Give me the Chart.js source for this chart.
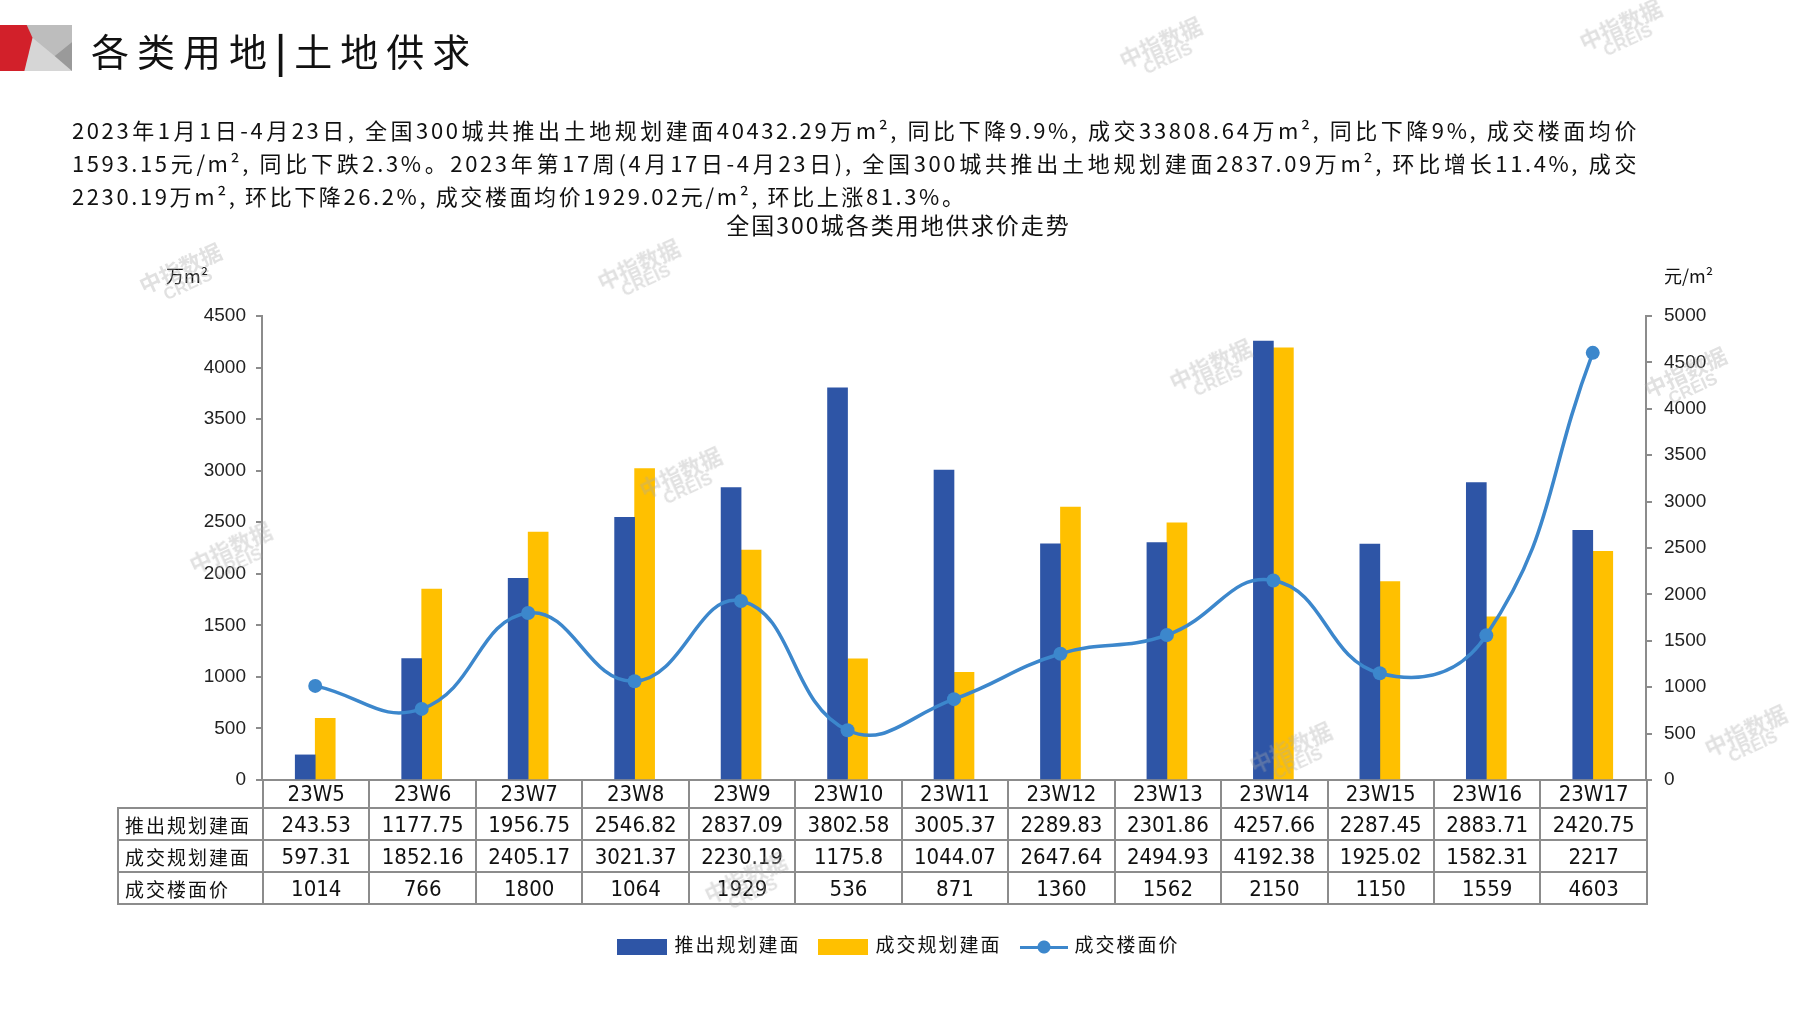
<!DOCTYPE html>
<html>
<head>
<meta charset="utf-8">
<script src="https://cdn.jsdelivr.net/npm/chart.js@4.4.0/dist/chart.umd.min.js"></script>
<style>
  body { margin: 0; background: #fff; width: 1797px; height: 1010px; overflow: hidden; position: relative;
         font-family: "Noto Sans CJK SC", "Noto Sans", sans-serif; color: #111; }
  #wrap { position: absolute; left: 0; top: 0; width: 1797px; height: 1010px; }
  .abs { position: absolute; white-space: nowrap; }
  #title { left: 91px; top: 22px; font-size: 38px; letter-spacing: 8px; font-weight: 400; }
  .para { left: 72px; width: 1567px; font-size: 22px; line-height: 33px; letter-spacing: 2.6px; }
  .just { text-align: justify; text-align-last: justify; }
  #ctitle { left: 0; width: 1797px; top: 207px; text-align: center; font-size: 23px; letter-spacing: 2px; }
  .unit { top: 262px; font-size: 18px; }
  #tbl { position: absolute; left: 117px; top: 780px; border-collapse: collapse; table-layout: fixed; }
  #tbl td { border: 2px solid #8c8c8c; padding: 0; text-align: center;
            font-family: "Liberation Sans Narrow", "DejaVu Sans Condensed", sans-serif; font-size: 22px; color: #111; }
  #tbl td.lab { text-align: left; padding-left: 6px; font-family: "Noto Sans CJK SC", sans-serif; font-size: 19px; letter-spacing: 2px; }
  #tbl tr.head td { border-top: none; height: 27px; }
  #tbl tr.head td.blank { border: none; border-right: 2px solid #8c8c8c; }
  #tbl tr.row td { height: 30px; }
  #legend { left: 0; width: 1797px; top: 927px; text-align: center; font-size: 19px; letter-spacing: 2px; }
  #legend span.item { display: inline-block; margin: 0 9px; vertical-align: middle; }
  #legend i { display: inline-block; vertical-align: middle; margin-right: 7px; }
  .wm { position: absolute; color: rgba(170,170,170,0.35); font-weight: 700; font-size: 22px; line-height: 20px;
        text-align: center; transform: rotate(-25deg); font-family: "Noto Sans CJK SC", sans-serif; }
  .wm b { display: block; font-family: "Liberation Sans", sans-serif; font-size: 17px; }
</style>
</head>
<body>
<div id="wrap"><canvas id="myChart"></canvas></div>

<svg class="abs" style="left:0;top:25px" width="72" height="46" viewBox="0 0 62 43" preserveAspectRatio="none">
  <rect x="0" y="0" width="62" height="43" fill="#d6d6d6"/>
  <polygon points="20,0 62,0 62,16 47,29 28,12" fill="#bdbdbd"/>
  <polygon points="62,16 62,43 47,29" fill="#9a9a9a"/>
  <polygon points="0,0 23,0 28,12 21,43 0,43" fill="#d2202a"/>
</svg>
<div id="title" class="abs">各类用地<span style="font-weight:700">|</span>土地供求</div>

<div class="abs para just" style="top:113px">2023年1月1日-4月23日, 全国300城共推出土地规划建面40432.29万m², 同比下降9.9%, 成交33808.64万m², 同比下降9%, 成交楼面均价</div>
<div class="abs para just" style="top:146px">1593.15元/m², 同比下跌2.3%。2023年第17周(4月17日-4月23日), 全国300城共推出土地规划建面2837.09万m², 环比增长11.4%, 成交</div>
<div class="abs para" style="top:179px">2230.19万m², 环比下降26.2%, 成交楼面均价1929.02元/m², 环比上涨81.3%。</div>

<div id="ctitle" class="abs">全国300城各类用地供求价走势</div>
<div class="abs unit" style="left:166px">万m²</div>
<div class="abs unit" style="left:1664px">元/m²</div>

<table id="tbl"></table>
<div id="legend" class="abs"></div>

<script>
const categories = ['23W5', '23W6', '23W7', '23W8', '23W9', '23W10', '23W11', '23W12', '23W13', '23W14', '23W15', '23W16', '23W17'];
const supplyArea = [243.53, 1177.75, 1956.75, 2546.82, 2837.09, 3802.58, 3005.37, 2289.83, 2301.86, 4257.66, 2287.45, 2883.71, 2420.75];
const dealArea = [597.31, 1852.16, 2405.17, 3021.37, 2230.19, 1175.8, 1044.07, 2647.64, 2494.93, 4192.38, 1925.02, 1582.31, 2217];
const dealPrice = [1014, 766, 1800, 1064, 1929, 536, 871, 1360, 1562, 2150, 1150, 1559, 4603];
const seriesNames = ['推出规划建面', '成交规划建面', '成交楼面价'];
const colors = ['#2E55A6', '#FFC000', '#3C87CC'];

// watermarks
const marks = [[1120,30],[1580,12],[140,256],[598,252],[1170,352],[1645,360],[190,535],[640,460],[1250,735],[705,865],[1705,718]];
marks.forEach(([x, y]) => {
  const d = document.createElement('div');
  d.className = 'wm';
  d.style.left = x + 'px'; d.style.top = y + 'px';
  d.innerHTML = '中指数据<b>CREIS</b>';
  document.body.appendChild(d);
});

// data table under the x axis
const colW = (1646 - 262) / categories.length;
let html = '<colgroup><col style="width:145px">' + categories.map(() => '<col style="width:' + colW + 'px">').join('') + '</colgroup>';
html += '<tr class="head"><td class="blank"></td>' + categories.map(c => '<td>' + c + '</td>').join('') + '</tr>';
[supplyArea, dealArea, dealPrice].forEach((arr, i) => {
  html += '<tr class="row"><td class="lab">' + seriesNames[i] + '</td>' + arr.map(v => '<td>' + v + '</td>').join('') + '</tr>';
});
const tbl = document.getElementById('tbl');
tbl.style.width = (145 + colW * categories.length) + 'px';
tbl.innerHTML = html;

// legend
document.getElementById('legend').innerHTML =
  '<span class="item"><i style="width:50px;height:16px;background:' + colors[0] + '"></i>' + seriesNames[0] + '</span>' +
  '<span class="item"><i style="width:50px;height:16px;background:' + colors[1] + '"></i>' + seriesNames[1] + '</span>' +
  '<span class="item"><i style="width:48px;height:14px;background:linear-gradient(' + colors[2] + ',' + colors[2] + ') center/48px 3px no-repeat,' +
  'radial-gradient(circle,' + colors[2] + ' 6px,transparent 7px) center/14px 14px no-repeat"></i>' + seriesNames[2] + '</span>';

Chart.defaults.font.family = '"Liberation Sans", Arial, sans-serif';
Chart.defaults.color = '#222';
const axisGray = '#8c8c8c';
const ctx = document.getElementById('myChart').getContext('2d');
const myChart = new Chart(ctx, {
  type: 'bar',
  data: {
    labels: categories,
    datasets: [{
      type: 'line',
      label: seriesNames[2],
      data: dealPrice,
      yAxisID: 'y1',
      borderColor: colors[2],
      backgroundColor: colors[2],
      borderWidth: 3.5,
      pointRadius: 7,
      pointBorderWidth: 0,
      pointBackgroundColor: colors[2],
      tension: 0.45,
      order: 0
    }, {
      label: seriesNames[0],
      data: supplyArea,
      yAxisID: 'y',
      backgroundColor: colors[0],
      barThickness: 20,
      order: 1
    }, {
      label: seriesNames[1],
      data: dealArea,
      yAxisID: 'y',
      backgroundColor: colors[1],
      barThickness: 20,
      order: 1
    }]
  },
  options: {
    responsive: true,
    maintainAspectRatio: false,
    animation: false,
    layout: { padding: { top: 316, left: 0, right: 0, bottom: 0 } },
    datasets: { bar: { categoryPercentage: 0.56, barPercentage: 0.67 } },
    plugins: { legend: { display: false }, tooltip: { enabled: false } },
    scales: {
      x: {
        grid: { display: false },
        border: { color: axisGray, width: 2 },
        ticks: { display: false },
        afterFit: s => { s.height = 230; }
      },
      y: {
        position: 'left',
        min: 0, max: 4500,
        ticks: { stepSize: 500, font: { size: 19 }, padding: 10, callback: v => String(v) },
        grid: { drawOnChartArea: false, tickLength: 6, color: axisGray, lineWidth: 2 },
        border: { color: axisGray, width: 2 },
        afterFit: s => { s.width = 262; }
      },
      y1: {
        position: 'right',
        min: 0, max: 5000,
        ticks: { stepSize: 500, font: { size: 19 }, padding: 12, callback: v => String(v) },
        grid: { drawOnChartArea: false, tickLength: 6, color: axisGray, lineWidth: 2 },
        border: { color: axisGray, width: 2 },
        afterFit: s => { s.width = 151; }
      }
    }
  }
});
</script>
</body>
</html>
